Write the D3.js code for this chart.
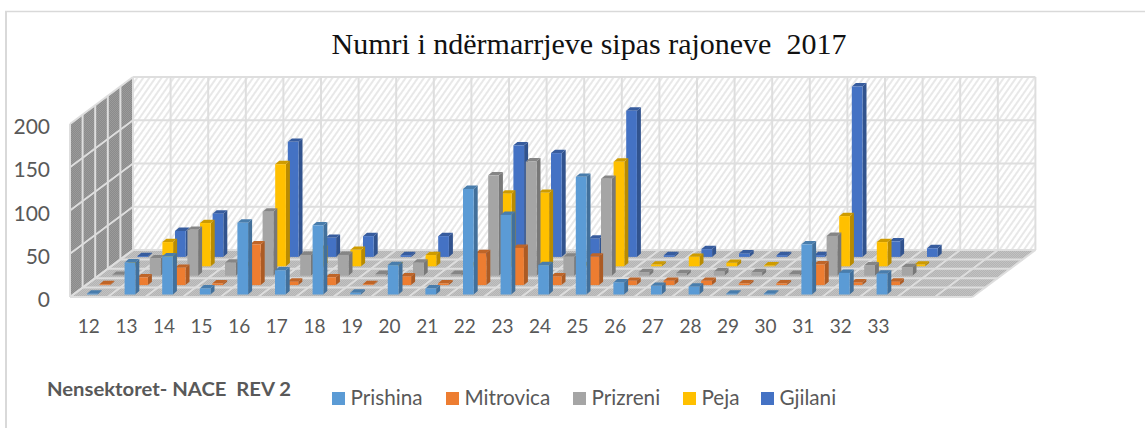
<!DOCTYPE html>
<html>
<head>
<meta charset="utf-8">
<script src="https://cdn.jsdelivr.net/npm/d3@7"></script>
<style>
html, body { margin: 0; padding: 0; background: #fff; }
svg { display: block; }
text { white-space: pre; }
</style>
</head>
<body>
<script>
var categories = ["12","13","14","15","16","17","18","19","20","21","22","23","24","25","26","27","28","29","30","31","32","33"];
var prishina =  [1,37,44,7,83,28,80,2,34,7,122,92,34,136,14,10,9,1,1,58,25,24];
var mitrovica = [1,9,20,2,47,4,9,1,10,2,37,43,10,33,5,5,5,2,2,24,3,4];
var prizreni =  [1,20,53,15,74,24,24,2,15,2,116,132,22,112,4,3,5,4,2,46,12,10];
var peja =      [1,28,50,1,118,20,19,1,13,1,84,85,1,121,2,11,4,1,1,58,28,2];
var gjilani =   [1,30,50,1,133,22,24,2,24,1,129,120,21,169,2,9,4,2,2,197,18,10];
var seriesNames = ["Prishina","Mitrovica","Prizreni","Peja","Gjilani"];
var seriesValues = [prishina, mitrovica, prizreni, peja, gjilani];
var seriesColors = ["#5b9bd5","#ed7d31","#a5a5a5","#ffc000","#4472c4"];
var yTicks = [0,50,100,150,200];
var legendX = [332,446,573,683,761];

var WIDTH = 1145;
var HEIGHT = 428;
var FRONT_X = 70;      // front left corner of the floor
var FRONT_Y = 297;
var SLOT = 37.6;       // one category along the floor
var SLOTS = 24;        // the axis has two empty slots after 33
var WALL_H = 173;
var BAR_W = 10.7;
var BAR_DX = 4;
var BAR_DY = 3.4;

var x = d3.scaleBand().domain(categories).range([FRONT_X, FRONT_X + SLOT * categories.length]);
var y = d3.scaleLinear().domain([0, 200]).range([FRONT_Y, FRONT_Y - WALL_H]);
var depthX = d3.scaleLinear().domain([0, 5]).range([0, 63]);
var depthY = d3.scaleLinear().domain([0, 5]).range([0, 47]);

var svg = d3.select("body").append("svg")
    .attr("width", WIDTH)
    .attr("height", HEIGHT);

// hatch fills of the walls and floor
var defs = svg.append("defs");
defs.append("pattern")
    .attr("id", "hatch")
    .attr("patternUnits", "userSpaceOnUse")
    .attr("width", 5).attr("height", 5)
    .attr("patternTransform", "rotate(35)")
  .append("line")
    .attr("x1", 2).attr("y1", 0).attr("x2", 2).attr("y2", 5)
    .style("stroke", "#e2e2e2")
    .style("stroke-width", 1.6);

function dots(id, base, dot) {
    var p = defs.append("pattern")
        .attr("id", id)
        .attr("patternUnits", "userSpaceOnUse")
        .attr("width", 2).attr("height", 2);
    p.append("rect").attr("width", 2).attr("height", 2).style("fill", base);
    p.append("rect").attr("width", 1).attr("height", 1).style("fill", dot);
    p.append("rect").attr("x", 1).attr("y", 1).attr("width", 1).attr("height", 1).style("fill", dot);
}
dots("wallDots", "#8b8b8b", "#9a9a9a");
dots("floorDots", "#b4b4b4", "#c2c2c2");

// chart frame, only top and left show
svg.append("line").attr("x1", 5).attr("y1", 11.5).attr("x2", WIDTH).attr("y2", 11.5)
    .style("stroke", "#d9d9d9").style("stroke-width", 1.5);
svg.append("line").attr("x1", 6).attr("y1", 11).attr("x2", 6).attr("y2", HEIGHT)
    .style("stroke", "#d9d9d9").style("stroke-width", 2);

svg.append("text")
    .attr("x", 589).attr("y", 54)
    .attr("text-anchor", "middle")
    .style("font-family", "'Liberation Serif', serif")
    .style("font-size", "30px")
    .style("fill", "#111")
    .text("Numri i ndërmarrjeve sipas rajoneve  2017");

var backDX = depthX(5), backDY = depthY(5);
var floorW = SLOT * SLOTS;

function pts(list) {
    return list.map(function(p) { return p[0] + "," + p[1]; }).join(" ");
}

// back wall
svg.append("polygon")
    .attr("points", pts([[FRONT_X + backDX, y(200) - backDY], [FRONT_X + backDX + floorW, y(200) - backDY],
        [FRONT_X + backDX + floorW, y(0) - backDY], [FRONT_X + backDX, y(0) - backDY]]))
    .style("fill", "url(#hatch)");
// side wall
svg.append("polygon")
    .attr("points", pts([[FRONT_X, y(200)], [FRONT_X + backDX, y(200) - backDY],
        [FRONT_X + backDX, y(0) - backDY], [FRONT_X, y(0)]]))
    .style("fill", "url(#wallDots)");
// floor
svg.append("polygon")
    .attr("points", pts([[FRONT_X, y(0)], [FRONT_X + backDX, y(0) - backDY],
        [FRONT_X + backDX + floorW, y(0) - backDY], [FRONT_X + floorW, y(0)]]))
    .style("fill", "url(#floorDots)");

var grid = svg.append("g")
    .style("stroke", "#dedede")
    .style("stroke-width", 2)
    .style("fill", "none");

function gridLine(x1, y1, x2, y2) {
    grid.append("line").attr("x1", x1).attr("y1", y1).attr("x2", x2).attr("y2", y2);
}

yTicks.forEach(function(t) {
    gridLine(FRONT_X, y(t), FRONT_X + backDX, y(t) - backDY);
    gridLine(FRONT_X + backDX, y(t) - backDY, FRONT_X + backDX + floorW, y(t) - backDY);
});
d3.range(SLOTS + 1).forEach(function(i) {
    var gx = FRONT_X + SLOT * i;
    gridLine(gx + backDX, y(200) - backDY, gx + backDX, y(0) - backDY);
    gridLine(gx, y(0), gx + backDX, y(0) - backDY);
});
d3.range(6).forEach(function(s) {
    var dx = depthX(s), dy = depthY(s);
    gridLine(FRONT_X + dx, y(200) - dy, FRONT_X + dx, y(0) - dy);
    gridLine(FRONT_X + dx, y(0) - dy, FRONT_X + dx + floorW, y(0) - dy);
});

// bars, back row first so the front rows cover them
d3.range(seriesNames.length).reverse().forEach(function(s) {
    var color = d3.color(seriesColors[s]);
    var row = svg.append("g").attr("class", "series-" + seriesNames[s]);
    var bars = row.selectAll("g")
        .data(seriesValues[s])
        .enter().append("g");

    function left(d, i) { return x(categories[i]) + depthX(s) + 17; }
    function base() { return y(0) - depthY(s) - 2.5; }
    function height(d) { return y(0) - y(d); }

    bars.append("polygon")
        .attr("points", function(d, i) {
            var l = left(d, i), b = base(), h = height(d);
            return pts([[l + BAR_W, b], [l + BAR_W + BAR_DX, b - BAR_DY],
                [l + BAR_W + BAR_DX, b - BAR_DY - h], [l + BAR_W, b - h]]);
        })
        .style("fill", color.darker(0.9));
    bars.append("polygon")
        .attr("points", function(d, i) {
            var l = left(d, i), t = base() - height(d);
            return pts([[l, t], [l + BAR_DX, t - BAR_DY], [l + BAR_W + BAR_DX, t - BAR_DY], [l + BAR_W, t]]);
        })
        .style("fill", color.darker(0.6));
    bars.append("rect")
        .attr("x", left)
        .attr("y", function(d) { return base() - height(d); })
        .attr("width", BAR_W)
        .attr("height", height)
        .style("fill", color);
});

// axes
var yAxis = svg.append("g")
    .attr("transform", "translate(50,3)")
    .call(d3.axisLeft(y).tickValues(yTicks).tickSize(0).tickPadding(0));
var xAxis = svg.append("g")
    .attr("transform", "translate(0,319)")
    .call(d3.axisBottom(x).tickSize(0).tickPadding(0));
yAxis.select(".domain").remove();
xAxis.select(".domain").remove();
yAxis.selectAll("text")
    .style("font-family", "Lato, sans-serif")
    .style("font-size", "21px")
    .style("fill", "#595959");
xAxis.selectAll("text")
    .style("font-family", "Lato, sans-serif")
    .style("font-size", "19px")
    .style("fill", "#595959");

svg.append("text")
    .attr("x", 47).attr("y", 396)
    .attr("textLength", 244)
    .attr("lengthAdjust", "spacingAndGlyphs")
    .style("font-family", "Lato, sans-serif")
    .style("font-weight", "bold")
    .style("font-size", "18px")
    .style("fill", "#595959")
    .text("Nensektoret- NACE  REV 2");

// legend
var legend = svg.selectAll(".legend")
    .data(seriesNames)
    .enter().append("g")
    .attr("class", "legend")
    .attr("transform", function(d, i) { return "translate(" + legendX[i] + ",392)"; });
legend.append("rect")
    .attr("width", 13).attr("height", 13)
    .style("fill", function(d, i) { return seriesColors[i]; });
legend.append("text")
    .attr("x", 18.5).attr("y", 13)
    .style("font-family", "Lato, sans-serif")
    .style("font-size", "20.7px")
    .style("fill", "#595959")
    .text(function(d) { return d; });
</script>
</body>
</html>
